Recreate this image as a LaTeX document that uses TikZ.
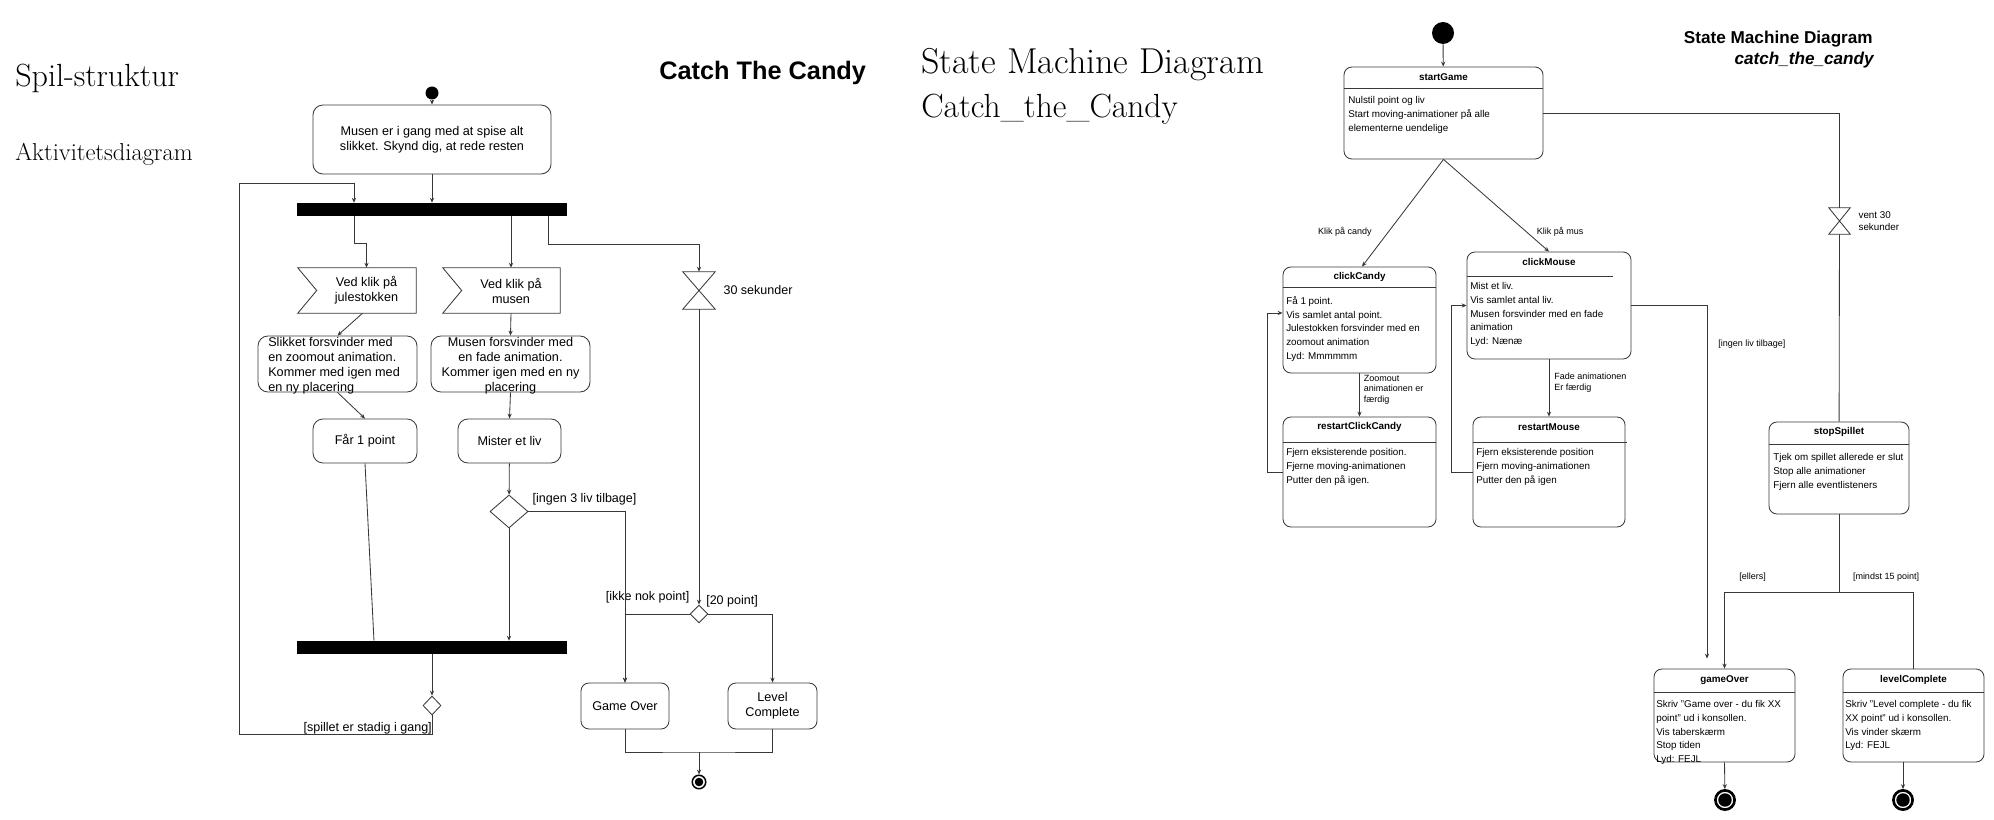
\documentclass[tikz,border=0pt]{standalone}
\usepackage{fontspec}
\setsansfont{Liberation Sans}
\usetikzlibrary{positioning, shapes.geometric, arrows.meta}

\colorlet{linegray}{black!78}
\newcommand{\actfont}{\sffamily\fontsize{9}{10.7}\selectfont}
\newcommand{\lblfont}{\sffamily\fontsize{8.9}{10.5}\selectfont}
\newcommand{\statefont}{\sffamily\fontsize{7}{9.7}\selectfont}
\newcommand{\slblfont}{\sffamily\fontsize{6.4}{7.6}\selectfont}

\tikzstyle{line} = [draw=linegray, line width=0.6pt]
\tikzstyle{arrow} = [draw=linegray, line width=0.6pt, ->, >={Stealth[length=3.5pt, width=3pt]}]
\tikzstyle{actbox} = [rectangle, rounded corners=0.25cm, draw=linegray, line width=0.6pt, align=center, font=\actfont]
\tikzstyle{boxtext} = [inner sep=0pt, font=\actfont]
\tikzstyle{signalbox} = [rectangle, minimum height=1.125cm, inner sep=0pt, align=center, font=\actfont]
\tikzstyle{forkbar} = [rectangle, fill=black, minimum width=6.75cm, minimum height=0.325cm, inner sep=0pt]
\tikzstyle{decision} = [diamond, draw=linegray, line width=0.6pt, inner sep=0pt]
\tikzstyle{hourglass} = [rectangle, inner sep=0pt]
\tikzstyle{lbl} = [inner sep=0pt, font=\lblfont]
\tikzstyle{startdot} = [circle, fill=black, inner sep=0pt]
\tikzstyle{endA} = [circle, draw=black, line width=1.1pt, inner sep=0pt, minimum size=0.3375cm, path picture={\fill[black] (path picture bounding box.center) circle (0.107cm);}]
\tikzstyle{endB} = [circle, draw=black, line width=1.9pt, inner sep=0pt, minimum size=0.48cm, path picture={\fill[black] (path picture bounding box.center) circle (0.168cm);}]
\tikzstyle{statebox} = [rectangle, rounded corners=0.2cm, draw=linegray, line width=0.6pt]
\tikzstyle{statetitle} = [inner sep=0pt, font=\statefont\bfseries]
\tikzstyle{statebody} = [inner sep=0pt, anchor=north west, align=left, font=\statefont]
\tikzstyle{slbl} = [inner sep=0pt, align=left, font=\slblfont]

\begin{document}
\begin{tikzpicture}[x=0.025cm, y=-0.025cm]
  \useasboundingbox (0,0) rectangle (1994,820);

  \node (spil) [anchor=base west, inner sep=0pt, font=\fontsize{22.8}{26}\selectfont] at (15,87) {Spil-struktur};
  \node (akt) [anchor=base west, inner sep=0pt, font=\fontsize{17.4}{20}\selectfont] at (15,161) {Aktivitetsdiagram};
  \node (ctctitle) [anchor=base west, inner sep=0pt, font=\sffamily\bfseries\fontsize{18}{22}\selectfont] at (659,79.5) {Catch The Candy};
  \node (smdserif) [anchor=base west, inner sep=0pt, font=\fontsize{25.6}{30}\selectfont] at (921,74) {State Machine Diagram};
  \node (ctcserif) [anchor=base west, inner sep=0pt, font=\fontsize{23.8}{28}\selectfont] at (921,118) {Catch\_the\_Candy};
  \node (smdsans) [anchor=base east, inner sep=0pt, font=\sffamily\bfseries\fontsize{12.2}{14}\selectfont] at (1873,43.5) {State Machine Diagram};
  \node (ctcsans) [anchor=base east, inner sep=0pt, font=\sffamily\bfseries\itshape\fontsize{12.2}{14}\selectfont] at (1874,65) {catch\_the\_candy};

  \node (start1) [startdot, minimum size=0.325cm] at (432,93) {};
  \node (musen) [actbox, minimum width=5.95cm, minimum height=1.725cm] at (432,139.5) {Musen er i gang med at spise alt\\slikket. Skynd dig, at rede resten};
  \node (fork1) [forkbar] at (432,209.5) {};
  \node (julestok) [signalbox, minimum width=2.475cm] at (366.5,290.5) {Ved klik på\\julestokken};
  \node (musklik) [signalbox, minimum width=2.45cm] at (511,290.5) {Ved klik på\\musen};
  \node (slikket) [actbox, minimum width=3.975cm, minimum height=1.4cm] at (337.5,364) {};
  \node (slikkettxt) [boxtext, align=left, anchor=west] at (268,366) {Slikket forsvinder med\\en zoomout animation.\\Kommer med igen med\\en ny placering};
  \node (musforsv) [actbox, minimum width=3.975cm, minimum height=1.4cm] at (510.5,364) {};
  \node (musforsvtxt) [boxtext, align=center] at (510.5,366) {Musen forsvinder med\\en fade animation.\\Kommer igen med en ny\\placering};
  \node (faar) [actbox, minimum width=2.6cm, minimum height=1.1cm] at (365,441) {Får 1 point};
  \node (mister) [actbox, minimum width=2.575cm, minimum height=1.1cm] at (509.5,441) {Mister et liv};
  \node (liv) [decision, minimum width=0.95cm, minimum height=0.825cm] at (509,511.5) {};
  \node (ingen3) [lbl, anchor=south west] at ([xshift=0.1cm, yshift=0.1625cm]liv.east) {[ingen 3 liv tilbage]};
  \node (fork2) [forkbar] at (432,647.5) {};
  \node (igang) [decision, minimum width=0.45cm, minimum height=0.475cm] at (432,705.5) {};
  \node (spillet) [lbl, anchor=south east] at ([yshift=-0.475cm]igang.south) {[spillet er stadig i gang]};
  \node (timer1) [hourglass, minimum width=0.8cm, minimum height=0.925cm] at (699,290.5) {};
  \node (timer1lbl) [lbl, right=0.2cm of timer1] {30 sekunder};
  \node (point) [decision, minimum width=0.45cm, minimum height=0.45cm] at (699,614) {};
  \node (ikkenok) [lbl, anchor=south east] at ([yshift=0.26cm]point.west) {[ikke nok point]};
  \node (tyve) [lbl, anchor=south west] at ([xshift=0.175cm, yshift=0.1675cm]point.center) {[20 point]};
  \node (gameover) [actbox, rounded corners=0.2cm, minimum width=2.2cm, minimum height=1.15cm] at (625,706) {Game Over};
  \node (levelcomp) [actbox, rounded corners=0.2cm, minimum width=2.225cm, minimum height=1.15cm] at (772.5,706) {Level\\Complete};
  \coordinate (merge) at (699,752);
  \node (end1) [endA] at (699,782) {};

  \draw [line] ([xshift=-0.475cm]julestok.north west) -- (julestok.north east) -- (julestok.south east) -- ([xshift=-0.475cm]julestok.south west) -- (julestok.west) -- cycle;
  \draw [line] ([xshift=-0.475cm]musklik.north west) -- (musklik.north east) -- (musklik.south east) -- ([xshift=-0.475cm]musklik.south west) -- (musklik.west) -- cycle;
  \draw [line] (timer1.north west) -- (timer1.north east) -- (timer1.south west) -- (timer1.south east) -- cycle;

  \draw [arrow] (start1) -- (musen);
  \draw [arrow] (musen) -- (fork1);
  \draw [arrow] ([xshift=-1.95cm]fork1.south) -- ++(0,27) -| (julestok.north);
  \draw [arrow] (fork1.south -| musklik.north) -- (musklik.north);
  \draw [arrow] ([xshift=2.9cm]fork1.south) -- ++(0,28) -| (timer1.north);
  \draw [arrow] ([xshift=-0.1cm]julestok.south) -- (slikket.north);
  \draw [arrow] (musklik.south) -- (musforsv.north);
  \draw [arrow] (slikket.south) -- (faar.north);
  \draw [arrow] (musforsv.south) -- (mister.north);
  \draw [arrow] (mister) -- (liv);
  \draw [line] (faar.south) -- ([xshift=-1.45cm]fork2.north);
  \draw [arrow] (liv.south) -- (liv.south |- fork2.north);
  \draw [arrow] (liv.east) -| (gameover.north);
  \draw [arrow] (fork2) -- (igang);
  \draw [arrow] (igang.south) -- ++(0,19) -- ++(-193,0) -- ++(0,-551) -| ([xshift=-1.95cm]fork1.north);
  \draw [arrow] (timer1) -- (point);
  \draw [arrow] (point.west) -| (gameover.north);
  \draw [arrow] (point.east) -| (levelcomp.north);
  \draw [line] (gameover.south) |- (merge) -| (levelcomp.south);
  \draw [arrow] (merge) -- (end1);

  \node (init2) [startdot, minimum size=0.55cm] at (1443,33) {};
  \node (startGame) [statebox, minimum width=4.975cm, minimum height=2.3cm] at (1443.5,113) {};
  \node (startGameT) [statetitle] at (1443.5,77) {startGame};
  \node (startGameB) [statebody] at (1348,96.4) {Nulstil point og liv\\Start moving-animationer på alle\\elementerne uendelige};
  \node (clickCandy) [statebox, minimum width=3.825cm, minimum height=2.65cm] at (1359.5,320) {};
  \node (clickCandyT) [statetitle] at (1359.5,277) {clickCandy};
  \node (clickCandyB) [statebody] at (1286,296.4) {Få 1 point.\\Vis samlet antal point.\\Julestokken forsvinder med en\\zoomout animation\\Lyd: Mmmmmm};
  \node (clickMouse) [statebox, minimum width=4.1cm, minimum height=2.675cm] at (1549,305.5) {};
  \node (clickMouseT) [statetitle] at (1549,262) {clickMouse};
  \node (clickMouseB) [statebody] at (1470,282.4) {Mist et liv.\\Vis samlet antal liv.\\Musen forsvinder med en fade\\animation\\Lyd: Nænæ};
  \node (restartClickCandy) [statebox, minimum width=3.825cm, minimum height=2.75cm] at (1359.5,472) {};
  \node (restartClickCandyT) [statetitle] at (1359.5,427) {restartClickCandy};
  \node (restartClickCandyB) [statebody] at (1286,448.4) {Fjern eksisterende position.\\Fjerne moving-animationen\\Putter den på igen.};
  \node (restartMouse) [statebox, minimum width=3.8cm, minimum height=2.75cm] at (1549,472) {};
  \node (restartMouseT) [statetitle] at (1549,427) {restartMouse};
  \node (restartMouseB) [statebody] at (1476,448.4) {Fjern eksisterende position\\Fjern moving-animationen\\Putter den på igen};
  \node (timer2) [hourglass, minimum width=0.525cm, minimum height=0.65cm] at (1839.5,221) {};
  \node (timer2lbl) [slbl, font=\sffamily\fontsize{7}{8.5}\selectfont, right=0.2cm of timer2] {vent 30\\sekunder};
  \node (stopSpillet) [statebox, minimum width=3.5cm, minimum height=2.3cm] at (1839,468) {};
  \node (stopSpilletT) [statetitle] at (1839,432) {stopSpillet};
  \node (stopSpilletB) [statebody] at (1773,453.4) {Tjek om spillet allerede er slut\\Stop alle animationer\\Fjern alle eventlisteners};
  \node (gameOverS) [statebox, minimum width=3.525cm, minimum height=2.325cm] at (1724.5,715.5) {};
  \node (gameOverST) [statetitle] at (1724.5,680) {gameOver};
  \node (gameOverSB) [statebody] at (1656,700.4) {Skriv ''Game over - du fik XX\\point'' ud i konsollen.\\Vis taberskærm\\Stop tiden\\Lyd: FEJL};
  \node (levelCompleteS) [statebox, minimum width=3.525cm, minimum height=2.325cm] at (1913.5,715.5) {};
  \node (levelCompleteST) [statetitle] at (1913.5,680) {levelComplete};
  \node (levelCompleteSB) [statebody] at (1845,700.4) {Skriv ''Level complete - du fik\\XX point'' ud i konsollen.\\Vis vinder skærm\\Lyd: FEJL};
  \coordinate (split) at (1839,592);
  \node (lblellers) [slbl] at (1752.5,577) {[ellers]};
  \node (lblmindst) [slbl] at (1886,577) {[mindst 15 point]};
  \node (end2a) [endB] at (1725,800) {};
  \node (end2b) [endB] at (1903,800) {};

  \draw [line] (startGame.west |- 0,88) -- (startGame.east |- 0,88);
  \draw [line] (clickCandy.west |- 0,287) -- (clickCandy.east |- 0,287);
  \draw [line] (clickMouse.west |- 0,276) -- (1613,276);
  \draw [line] (restartClickCandy.west |- 0,442) -- (restartClickCandy.east |- 0,442);
  \draw [line] (restartMouse.west |- 0,442) -- (1627,442);
  \draw [line] (stopSpillet.west |- 0,444) -- (stopSpillet.east |- 0,444);
  \draw [line] (gameOverS.west |- 0,692) -- (gameOverS.east |- 0,692);
  \draw [line] (levelCompleteS.west |- 0,692) -- (levelCompleteS.east |- 0,692);
  \draw [line] (timer2.north west) -- (timer2.north east) -- (timer2.south west) -- (timer2.south east) -- cycle;

  \draw [arrow] (init2) -- (startGame);
  \draw [line] (startGame.east) -| (timer2.north);
  \draw [line] (timer2) -- (stopSpillet);
  \draw [arrow] (startGame.south) -- node [slbl, pos=0.68, anchor=east, xshift=-0.4cm] (lblcandy) {Klik på candy} ([xshift=0.0625cm]clickCandy.north);
  \draw [arrow] (startGame.south) -- node [slbl, pos=0.785, anchor=west, xshift=0.25cm] (lblmus) {Klik på mus} (clickMouse.north);
  \draw [arrow] (clickCandy) -- node [slbl, pos=0.375, anchor=west, xshift=0.1cm] (lblzoom) {Zoomout\\animationen er\\færdig} (restartClickCandy);
  \draw [arrow] (clickMouse) -- node [slbl, pos=0.41, anchor=west, xshift=0.125cm] (lblfade) {Fade animationen\\Er færdig} (restartMouse);
  \draw [arrow] (restartClickCandy.west) -- ++(-15,0) |- ([yshift=0.175cm]clickCandy.west);
  \draw [arrow] (restartMouse.west) -- ++(-21,0) |- (clickMouse.west);
  \draw [arrow] (clickMouse.east) -| node [slbl, pos=0.555, anchor=west, xshift=0.275cm] (lblingen) {[ingen liv tilbage]} ([xshift=-0.4375cm, yshift=0.25cm]gameOverS.north);
  \draw [line] (stopSpillet) -- (split);
  \draw [arrow] (split) -| (gameOverS.north);
  \draw [line] (split) -| (levelCompleteS.north);
  \draw [arrow] (gameOverS.south) -- (end2a);
  \draw [arrow] (levelCompleteS.south -| end2b) -- (end2b);
\end{tikzpicture}
\end{document}
